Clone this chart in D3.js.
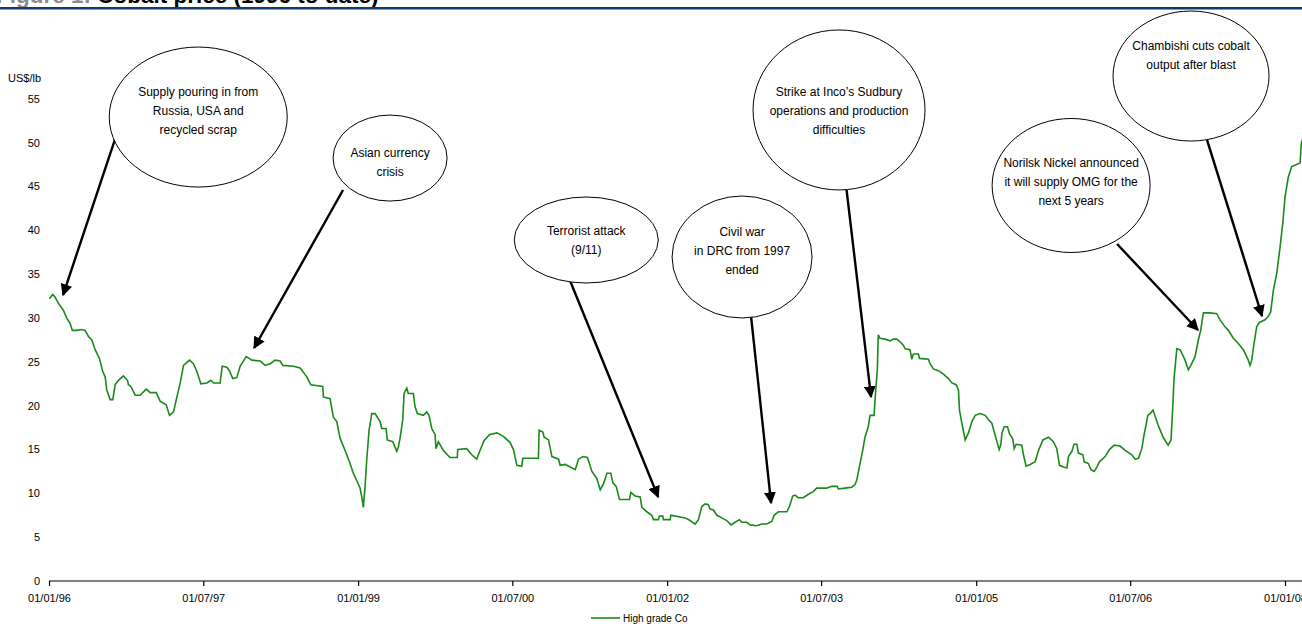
<!DOCTYPE html>
<html>
<head>
<meta charset="utf-8">
<script src="https://cdn.jsdelivr.net/npm/d3@7"></script>
<style>
  html, body { margin: 0; padding: 0; background: #fff; overflow: hidden; }
  svg { display: block; font-family: "Liberation Sans", Arial, sans-serif; }
</style>
</head>
<body>
<svg id="chart" width="1302" height="624"></svg>
<script>
// ---------------- DATA ----------------
// Dates as decimal years, prices in US$/lb
const years = [
  1996.003,1996.036,1996.058,1996.090,1996.139,1996.172,1996.204,1996.226,1996.269,1996.317,
  1996.350,1996.382,1996.415,1996.447,1996.488,1996.521,1996.544,1996.560,1996.592,1996.618,
  1996.641,1996.673,1996.721,1996.760,1996.770,1996.793,1996.835,1996.883,1996.942,1996.981,
  1997.039,1997.078,1997.136,1997.168,1997.207,1997.240,1997.272,1997.304,1997.362,1997.401,
  1997.434,1997.473,1997.531,1997.570,1997.595,1997.660,1997.680,1997.725,1997.750,1997.783,
  1997.822,1997.854,1997.913,1997.968,1998.049,1998.097,1998.146,1998.194,1998.243,1998.269,
  1998.372,1998.437,1998.502,1998.541,1998.657,1998.663,1998.728,1998.760,1998.793,1998.825,
  1998.874,1998.916,1998.954,1998.993,1999.019,1999.036,1999.051,1999.068,1999.084,1999.107,
  1999.133,1999.165,1999.214,1999.230,1999.272,1999.284,1999.337,1999.376,1999.391,1999.408,
  1999.434,1999.447,1999.473,1999.488,1999.537,1999.553,1999.576,1999.634,1999.667,1999.689,
  1999.716,1999.748,1999.757,1999.780,1999.828,1999.893,1999.964,1999.968,2000.055,2000.104,
  2000.152,2000.184,2000.223,2000.275,2000.347,2000.411,2000.476,2000.508,2000.541,2000.589,
  2000.599,2000.750,2000.757,2000.793,2000.806,2000.848,2000.881,2000.945,2000.961,2001.010,
  2001.058,2001.107,2001.139,2001.182,2001.226,2001.269,2001.317,2001.350,2001.382,2001.415,
  2001.453,2001.473,2001.505,2001.537,2001.634,2001.647,2001.689,2001.738,2001.754,2001.803,
  2001.851,2001.867,2001.915,2001.925,2001.958,2001.964,2002.029,2002.036,2002.078,2002.126,
  2002.175,2002.223,2002.272,2002.304,2002.337,2002.369,2002.401,2002.417,2002.450,2002.483,
  2002.531,2002.579,2002.621,2002.660,2002.702,2002.725,2002.773,2002.806,2002.871,2002.919,
  2002.968,2003.017,2003.039,2003.081,2003.162,2003.188,2003.220,2003.243,2003.275,2003.323,
  2003.372,2003.420,2003.453,2003.550,2003.599,2003.653,2003.663,2003.728,2003.793,2003.825,
  2003.842,2003.867,2003.900,2003.922,2003.954,2003.971,2004.010,2004.029,2004.042,2004.051,
  2004.068,2004.117,2004.165,2004.197,2004.230,2004.262,2004.294,2004.311,2004.359,2004.376,
  2004.391,2004.440,2004.450,2004.537,2004.553,2004.585,2004.634,2004.683,2004.731,2004.764,
  2004.806,2004.828,2004.838,2004.861,2004.893,2004.925,2004.958,2004.990,2005.039,2005.087,
  2005.119,2005.152,2005.175,2005.201,2005.223,2005.240,2005.250,2005.272,2005.304,2005.323,
  2005.356,2005.369,2005.388,2005.443,2005.459,2005.485,2005.524,2005.573,2005.605,2005.648,
  2005.702,2005.750,2005.783,2005.809,2005.848,2005.881,2005.896,2005.929,2005.951,2005.978,
  2005.993,2006.036,2006.049,2006.090,2006.114,2006.146,2006.172,2006.197,2006.252,2006.294,
  2006.340,2006.398,2006.447,2006.512,2006.544,2006.576,2006.609,2006.631,2006.650,2006.667,
  2006.689,2006.718,2006.767,2006.816,2006.864,2006.893,2006.913,2006.922,2006.949,2006.981,
  2007.029,2007.061,2007.085,2007.126,2007.158,2007.181,2007.207,2007.272,2007.337,2007.369,
  2007.417,2007.450,2007.498,2007.547,2007.595,2007.644,2007.660,2007.677,2007.699,2007.725,
  2007.750,2007.806,2007.838,2007.861,2007.887,2007.920,2007.952,2007.978,2008.000,2008.032,
  2008.065,2008.146,2008.158,2008.184
];
const prices = [
  32.2,32.7,32.4,31.7,30.9,30.0,29.4,28.6,28.6,28.7,
  28.6,27.9,27.5,26.4,25.4,23.9,23.3,21.8,20.7,20.7,
  22.4,22.9,23.4,22.9,22.4,22.2,21.2,21.2,21.9,21.5,
  21.5,20.5,20.1,18.9,19.3,21.0,22.6,24.6,25.2,24.8,
  23.9,22.5,22.6,22.9,22.6,22.6,24.5,24.4,24.0,23.1,
  23.2,24.5,25.6,25.2,25.1,24.6,24.8,25.2,25.1,24.6,
  24.5,24.3,23.3,22.4,22.2,21.0,20.8,18.7,18.2,16.3,
  14.9,13.6,12.3,11.3,10.6,9.6,8.4,10.8,13.8,17.2,
  19.1,19.1,18.2,17.4,17.4,16.1,15.9,14.8,15.3,16.3,
  18.4,21.4,22.0,21.4,21.4,19.9,19.1,18.9,19.3,18.9,
  17.4,16.7,15.1,15.9,14.9,14.1,14.1,15.0,15.1,14.4,
  13.9,14.9,16.0,16.7,16.9,16.5,15.8,15.0,13.2,13.1,
  14.0,14.0,17.2,17.0,16.4,16.1,14.2,13.9,13.2,13.3,
  13.0,12.7,13.9,14.2,14.1,12.5,11.7,10.4,11.1,12.3,
  12.3,11.2,10.8,9.3,9.3,10.1,9.7,9.6,8.4,7.9,
  7.5,7.0,7.0,7.4,7.4,7.0,7.0,7.5,7.4,7.3,
  7.2,6.9,6.5,7.0,8.5,8.8,8.7,8.2,8.1,7.5,
  7.2,6.9,6.4,6.7,7.0,6.7,6.7,6.4,6.3,6.5,
  6.5,6.8,7.5,7.9,7.9,8.5,9.7,9.8,9.5,9.5,
  9.9,10.2,10.6,10.6,10.8,10.8,10.5,10.6,10.7,11.0,
  11.5,13.0,14.9,16.4,17.6,18.9,18.9,22.2,24.1,28.1,
  27.7,27.6,27.4,27.6,27.6,27.3,26.9,26.5,26.4,25.3,
  25.9,25.9,25.4,25.3,24.8,24.2,24.0,23.6,23.1,22.6,
  22.4,21.8,19.5,18.0,16.1,16.9,18.2,18.9,19.1,18.9,
  18.4,18.0,17.0,15.9,15.0,15.6,16.9,17.6,17.6,16.8,
  16.2,15.1,15.6,15.5,14.4,13.1,13.3,13.6,14.9,16.1,
  16.4,15.9,15.1,13.2,13.0,12.9,14.2,14.8,15.6,15.6,
  14.6,14.4,13.6,13.4,12.7,12.5,13.0,13.6,14.2,15.0,
  15.5,15.4,14.9,14.4,13.9,14.0,15.1,16.7,17.8,18.9,
  19.1,19.5,17.8,16.4,15.5,16.1,20.7,23.1,26.5,26.4,
  25.2,24.1,24.6,25.6,27.5,28.6,30.6,30.6,30.5,29.8,
  29.0,28.6,27.7,27.1,26.4,25.2,24.6,25.2,27.1,29.0,
  29.5,29.8,30.2,30.7,33.2,35.1,38.1,40.8,43.8,46.1,
  47.3,47.7,49.9,51.0
];
const yTicks = [0, 5, 10, 15, 20, 25, 30, 35, 40, 45, 50, 55];
const xTickLabels = ["01/01/96","01/07/97","01/01/99","01/07/00","01/01/02","01/07/03","01/01/05","01/07/06","01/01/08"];
const seriesName = "High grade Co";
const yUnit = "US$/lb";
const titlePrefix = "Figure 1:";
const titleMain = " Cobalt price (1996 to date)";

// Annotations: text lines, ellipse centre (decimal year, price), arrow start and tip (decimal year, price)
const annotationTexts = [
  ["Supply pouring in from", "Russia, USA and", "recycled scrap"],
  ["Asian currency", "crisis"],
  ["Terrorist attack", "(9/11)"],
  ["Civil war", "in DRC from 1997", "ended"],
  ["Strike at Inco\u2019s Sudbury", "operations and production", "difficulties"],
  ["Norilsk Nickel announced", "it will supply OMG for the", "next 5 years"],
  ["Chambishi cuts cobalt", "output after blast"]
];
const annotationCentres = [
  [1997.447, 52.94], [1999.311, 48.26], [2001.214, 38.91], [2002.728, 36.97],
  [2003.670, 53.75], [2005.922, 45.13], [2007.087, 57.62]
];
const arrowStarts = [
  [1996.650, 50.77], [1998.854, 44.62], [2001.058, 34.23], [2002.816, 30.12],
  [2003.709, 48.03], [2006.369, 38.45], [2007.243, 50.31]
];
const arrowTips = [
  [1996.136, 32.63], [1997.990, 26.59], [2001.913, 9.58], [2003.010, 8.90],
  [2003.981, 21.00], [2007.155, 28.64], [2007.777, 30.23]
];
// layout: ellipse radii (px) and first text line offset from ellipse centre (px)
const ellipseRadii = [[89, 70], [57, 43], [72, 43], [70, 61], [86, 80], [79, 67], [78, 65]];
const firstLineOffsets = [-25, -5, -9, -25, -18, -23, -30];

// ---------------- HELPERS ----------------
function decYearToDate(y) {
  const yr = Math.floor(y);
  const start = new Date(yr, 0, 1).getTime();
  const end = new Date(yr + 1, 0, 1).getTime();
  return new Date(start + (y - yr) * (end - start));
}
const parseTick = d3.timeParse("%d/%m/%y");

// ---------------- CHART ----------------
const svg = d3.select("#chart");
const W = 1302, H = 624;

const x = d3.scaleTime()
  .domain([new Date(1996, 0, 1), new Date(2008, 0, 1)])
  .range([49, 1285]);
const y = d3.scaleLinear().domain([0, 55]).range([581, 99]);

// Title (cropped at top)
const title = svg.append("text")
  .attr("x", -4).attr("y", 3)
  .attr("font-size", 22.5).attr("font-weight", "bold");
title.append("tspan").attr("fill", "#8c8c8c").text(titlePrefix);
title.append("tspan").attr("fill", "#000").text(titleMain);
svg.append("rect").attr("x", 0).attr("y", 7).attr("width", W).attr("height", 2.5).attr("fill", "#0f3b6b");

// Y tick labels (no axis line)
svg.append("g").selectAll("text").data(yTicks).join("text")
  .attr("x", 40).attr("y", d => y(d)).attr("dy", "0.35em")
  .attr("text-anchor", "end").attr("font-size", 11).attr("fill", "#000")
  .text(d => d);
svg.append("text").attr("x", 8).attr("y", 78).attr("dy", "0.35em")
  .attr("font-size", 11).text(yUnit);

// X axis
const xTickDates = xTickLabels.map(parseTick);
const xAxis = d3.axisBottom(x)
  .tickValues(xTickDates)
  .tickFormat(d3.timeFormat("%d/%m/%y"))
  .tickSizeInner(5).tickSizeOuter(0).tickPadding(8);
const gx = svg.append("g").attr("transform", `translate(0,${y(0)})`).call(xAxis);
gx.select(".domain").attr("stroke", "#000").attr("stroke-width", 1.2)
  .attr("d", `M${x(xTickDates[0])},0H${W + 20}`);
gx.selectAll(".tick line").attr("stroke", "#000").attr("stroke-width", 1.2);
gx.selectAll(".tick text").attr("font-size", 11).attr("fill", "#000")
  .attr("font-family", "Liberation Sans, Arial, sans-serif");

// Price line
const data = years.map((yy, i) => ({ date: decYearToDate(yy), value: prices[i] }));
const line = d3.line().x(d => x(d.date)).y(d => y(d.value)).curve(d3.curveLinear);
svg.append("path").datum(data)
  .attr("fill", "none").attr("stroke", "#1b8a1b").attr("stroke-width", 1.6)
  .attr("stroke-linejoin", "miter")
  .attr("d", line);

// Arrows (drawn before ellipses so ellipses cover their start)
const defs = svg.append("defs");
defs.append("marker").attr("id", "ah")
  .attr("viewBox", "0 0 10 10").attr("refX", 9).attr("refY", 5)
  .attr("markerWidth", 5).attr("markerHeight", 5).attr("orient", "auto")
  .attr("markerUnits", "strokeWidth")
  .append("path").attr("d", "M0,0L10,5L0,10Z").attr("fill", "#000");

const annG = svg.append("g");
annotationTexts.forEach((lines, i) => {
  const s = arrowStarts[i], t = arrowTips[i];
  annG.append("line")
    .attr("x1", x(decYearToDate(s[0]))).attr("y1", y(s[1]))
    .attr("x2", x(decYearToDate(t[0]))).attr("y2", y(t[1]))
    .attr("stroke", "#000").attr("stroke-width", 2.4)
    .attr("marker-end", "url(#ah)");
});
annotationTexts.forEach((lines, i) => {
  const c = annotationCentres[i];
  const cx = x(decYearToDate(c[0])), cy = y(c[1]);
  const [rx, ry] = ellipseRadii[i];
  annG.append("ellipse").attr("cx", cx).attr("cy", cy).attr("rx", rx).attr("ry", ry)
    .attr("fill", "#fff").attr("stroke", "#000").attr("stroke-width", 1);
  const lh = 19;
  lines.forEach((ln, k) => {
    annG.append("text")
      .attr("x", cx)
      .attr("y", cy + firstLineOffsets[i] + k * lh)
      .attr("dy", "0.35em")
      .attr("text-anchor", "middle").attr("font-size", 12).attr("fill", "#000")
      .text(ln);
  });
});

// Legend
const lg = svg.append("g").attr("transform", "translate(591,618)");
lg.append("line").attr("x1", 0).attr("x2", 29).attr("y1", 0).attr("y2", 0)
  .attr("stroke", "#1b8a1b").attr("stroke-width", 1.6);
lg.append("text").attr("x", 32).attr("y", 0).attr("dy", "0.35em")
  .attr("font-size", 10).text(seriesName);
</script>
</body>
</html>
